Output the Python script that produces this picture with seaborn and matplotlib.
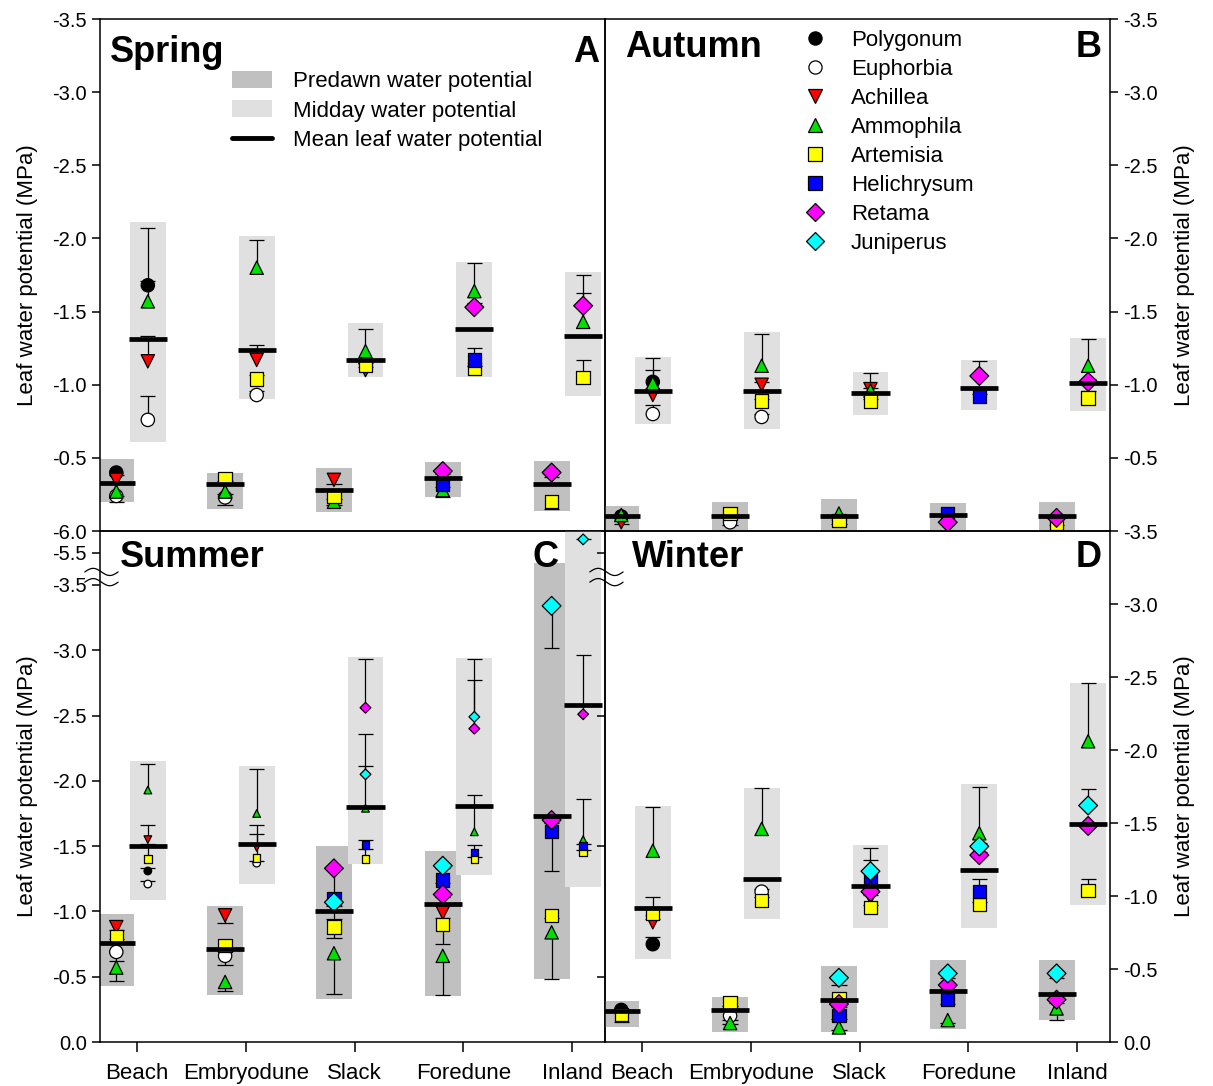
import numpy as np
import pandas as pd
import matplotlib
matplotlib.use("Agg")
import matplotlib.pyplot as plt
from matplotlib.patches import Patch
from matplotlib.lines import Line2D
from matplotlib.ticker import FixedLocator
import seaborn as sns

# ---------------- data ----------------
SITES = ["Beach", "Embryodune", "Slack", "Foredune", "Inland"]
SPECIES = ["Polygonum", "Euphorbia", "Achillea", "Ammophila", "Artemisia",
           "Helichrysum", "Retama", "Juniperus"]
SP_ABBR = ["Pol", "Eup", "Ach", "Amm", "Art", "Hel", "Ret", "Jun"]
SP_COLORS = ["#000000", "#ffffff", "#ff0000", "#00e000", "#ffff00",
             "#0000ff", "#ff00ff", "#00ffff"]
SP_MARKERS = ["o", "o", "v", "^", "s", "s", "D", "D"]

# (site, period, species, mean leaf water potential MPa, SE)
SPRING_POINTS = [
    ("Beach", "PD", "Pol", -0.40, 0.02), ("Beach", "PD", "Ach", -0.35, 0.02),
    ("Beach", "PD", "Amm", -0.27, 0.03), ("Beach", "PD", "Eup", -0.24, 0.04),
    ("Beach", "MD", "Pol", -1.68, 0.39), ("Beach", "MD", "Eup", -0.76, 0.16),
    ("Beach", "MD", "Ach", -1.16, 0.17), ("Beach", "MD", "Amm", -1.57, 0.14),
    ("Embryodune", "PD", "Eup", -0.23, 0.05), ("Embryodune", "PD", "Amm", -0.27, 0.02),
    ("Embryodune", "PD", "Art", -0.36, 0.02),
    ("Embryodune", "MD", "Eup", -0.93, 0.03), ("Embryodune", "MD", "Ach", -1.17, 0.10),
    ("Embryodune", "MD", "Amm", -1.80, 0.19), ("Embryodune", "MD", "Art", -1.04, 0.03),
    ("Slack", "PD", "Ach", -0.35, 0.03), ("Slack", "PD", "Amm", -0.20, 0.02),
    ("Slack", "PD", "Art", -0.24, 0.02),
    ("Slack", "MD", "Ach", -1.10, 0.02), ("Slack", "MD", "Amm", -1.23, 0.15),
    ("Slack", "MD", "Art", -1.13, 0.02),
    ("Foredune", "PD", "Amm", -0.28, 0.05), ("Foredune", "PD", "Hel", -0.32, 0.02),
    ("Foredune", "PD", "Ret", -0.41, 0.02),
    ("Foredune", "MD", "Amm", -1.64, 0.19), ("Foredune", "MD", "Art", -1.11, 0.02),
    ("Foredune", "MD", "Hel", -1.17, 0.08), ("Foredune", "MD", "Ret", -1.53, 0.03),
    ("Inland", "PD", "Art", -0.20, 0.05), ("Inland", "PD", "Ret", -0.40, 0.03),
    ("Inland", "MD", "Amm", -1.43, 0.20), ("Inland", "MD", "Art", -1.05, 0.12),
    ("Inland", "MD", "Ret", -1.54, 0.21),
]
# (site, period, range low, range high, mean of species)
SPRING_BOXES = [
    ("Beach", "PD", -0.20, -0.49, -0.33), ("Beach", "MD", -0.61, -2.11, -1.31),
    ("Embryodune", "PD", -0.15, -0.40, -0.32), ("Embryodune", "MD", -0.90, -2.02, -1.24),
    ("Slack", "PD", -0.13, -0.43, -0.28), ("Slack", "MD", -1.05, -1.42, -1.17),
    ("Foredune", "PD", -0.23, -0.47, -0.36), ("Foredune", "MD", -1.05, -1.84, -1.38),
    ("Inland", "PD", -0.14, -0.48, -0.32), ("Inland", "MD", -0.92, -1.77, -1.33),
]

AUTUMN_POINTS = [
    ("Beach", "PD", "Pol", -0.10, 0.01), ("Beach", "PD", "Ach", -0.06, 0.01),
    ("Beach", "PD", "Amm", -0.11, 0.01),
    ("Beach", "MD", "Pol", -1.02, 0.16), ("Beach", "MD", "Eup", -0.80, 0.06),
    ("Beach", "MD", "Ach", -0.93, 0.02), ("Beach", "MD", "Amm", -1.01, 0.09),
    ("Embryodune", "PD", "Eup", -0.06, 0.02), ("Embryodune", "PD", "Art", -0.12, 0.01),
    ("Embryodune", "MD", "Eup", -0.78, 0.02), ("Embryodune", "MD", "Ach", -1.00, 0.02),
    ("Embryodune", "MD", "Amm", -1.13, 0.22), ("Embryodune", "MD", "Art", -0.89, 0.01),
    ("Slack", "PD", "Amm", -0.12, 0.01), ("Slack", "PD", "Art", -0.07, 0.02),
    ("Slack", "MD", "Ach", -0.97, 0.11), ("Slack", "MD", "Amm", -0.96, 0.02),
    ("Slack", "MD", "Art", -0.89, 0.01),
    ("Foredune", "PD", "Hel", -0.12, 0.01), ("Foredune", "PD", "Ret", -0.06, 0.01),
    ("Foredune", "MD", "Hel", -0.92, 0.02), ("Foredune", "MD", "Ret", -1.06, 0.10),
    ("Inland", "PD", "Art", -0.05, 0.01), ("Inland", "PD", "Ret", -0.09, 0.01),
    ("Inland", "MD", "Amm", -1.13, 0.18), ("Inland", "MD", "Art", -0.91, 0.05),
    ("Inland", "MD", "Ret", -1.02, 0.02),
]
AUTUMN_BOXES = [
    ("Beach", "PD", -0.01, -0.17, -0.10), ("Beach", "MD", -0.73, -1.19, -0.955),
    ("Embryodune", "PD", -0.01, -0.20, -0.10), ("Embryodune", "MD", -0.70, -1.36, -0.96),
    ("Slack", "PD", -0.01, -0.22, -0.10), ("Slack", "MD", -0.79, -1.09, -0.945),
    ("Foredune", "PD", -0.01, -0.19, -0.11), ("Foredune", "MD", -0.83, -1.17, -0.98),
    ("Inland", "PD", -0.01, -0.20, -0.10), ("Inland", "MD", -0.82, -1.32, -1.01),
]

SUMMER_POINTS = [
    ("Beach", "PD", "Eup", -0.69, 0.07), ("Beach", "PD", "Ach", -0.88, 0.02),
    ("Beach", "PD", "Amm", -0.57, 0.10), ("Beach", "PD", "Art", -0.81, 0.02),
    ("Beach", "MD", "Pol", -1.31, 0.02), ("Beach", "MD", "Eup", -1.21, 0.02),
    ("Beach", "MD", "Ach", -1.55, 0.11), ("Beach", "MD", "Amm", -1.93, 0.20),
    ("Beach", "MD", "Art", -1.40, 0.12),
    ("Embryodune", "PD", "Eup", -0.66, 0.07), ("Embryodune", "PD", "Ach", -0.97, 0.06),
    ("Embryodune", "PD", "Amm", -0.46, 0.07), ("Embryodune", "PD", "Art", -0.74, 0.02),
    ("Embryodune", "MD", "Eup", -1.37, 0.02), ("Embryodune", "MD", "Ach", -1.49, 0.17),
    ("Embryodune", "MD", "Amm", -1.75, 0.34), ("Embryodune", "MD", "Art", -1.41, 0.18),
    ("Slack", "PD", "Amm", -0.68, 0.31), ("Slack", "PD", "Art", -0.88, 0.08),
    ("Slack", "PD", "Hel", -1.10, 0.02), ("Slack", "PD", "Ret", -1.33, 0.39),
    ("Slack", "PD", "Jun", -1.07, 0.03),
    ("Slack", "MD", "Amm", -1.79, 0.32), ("Slack", "MD", "Art", -1.40, 0.08),
    ("Slack", "MD", "Hel", -1.51, 0.04), ("Slack", "MD", "Ret", -2.56, 0.37),
    ("Slack", "MD", "Jun", -2.05, 0.31),
    ("Foredune", "PD", "Ach", -0.99, 0.04), ("Foredune", "PD", "Amm", -0.66, 0.30),
    ("Foredune", "PD", "Art", -0.90, 0.15), ("Foredune", "PD", "Hel", -1.24, 0.02),
    ("Foredune", "PD", "Ret", -1.13, 0.02), ("Foredune", "PD", "Jun", -1.35, 0.02),
    ("Foredune", "MD", "Amm", -1.61, 0.28), ("Foredune", "MD", "Art", -1.40, 0.02),
    ("Foredune", "MD", "Hel", -1.45, 0.06), ("Foredune", "MD", "Ret", -2.40, 0.37),
    ("Foredune", "MD", "Jun", -2.49, 0.44),
    ("Inland", "PD", "Amm", -0.84, 0.36), ("Inland", "PD", "Art", -0.97, 0.02),
    ("Inland", "PD", "Hel", -1.61, 0.30), ("Inland", "PD", "Ret", -1.70, 0.02),
    ("Inland", "PD", "Jun", -3.34, 0.32),
    ("Inland", "MD", "Amm", -1.55, 0.31), ("Inland", "MD", "Art", -1.45, 0.02),
    ("Inland", "MD", "Hel", -1.50, 0.02), ("Inland", "MD", "Ret", -2.51, 0.45),
    ("Inland", "MD", "Jun", -5.81, 0.02),
]
SUMMER_BOXES = [
    ("Beach", "PD", -0.43, -0.98, -0.76), ("Beach", "MD", -1.09, -2.15, -1.50),
    ("Embryodune", "PD", -0.36, -1.04, -0.71), ("Embryodune", "MD", -1.21, -2.11, -1.52),
    ("Slack", "PD", -0.33, -1.50, -1.00), ("Slack", "MD", -1.36, -2.95, -1.80),
    ("Foredune", "PD", -0.35, -1.46, -1.06), ("Foredune", "MD", -1.28, -2.94, -1.81),
    ("Inland", "PD", -0.48, -4.90, -1.73), ("Inland", "MD", -1.19, -6.00, -2.58),
]

WINTER_POINTS = [
    ("Beach", "PD", "Pol", -0.22, 0.02), ("Beach", "PD", "Art", -0.19, 0.05),
    ("Beach", "MD", "Pol", -0.67, 0.05), ("Beach", "MD", "Ach", -0.82, 0.02),
    ("Beach", "MD", "Amm", -1.31, 0.30), ("Beach", "MD", "Art", -0.88, 0.11),
    ("Embryodune", "PD", "Eup", -0.18, 0.03), ("Embryodune", "PD", "Amm", -0.13, 0.01),
    ("Embryodune", "PD", "Art", -0.27, 0.02),
    ("Embryodune", "MD", "Eup", -1.03, 0.02), ("Embryodune", "MD", "Amm", -1.46, 0.28),
    ("Embryodune", "MD", "Art", -0.97, 0.02),
    ("Slack", "PD", "Amm", -0.10, 0.02), ("Slack", "PD", "Art", -0.30, 0.02),
    ("Slack", "PD", "Hel", -0.18, 0.02), ("Slack", "PD", "Ret", -0.26, 0.02),
    ("Slack", "PD", "Jun", -0.44, 0.05),
    ("Slack", "MD", "Ach", -0.99, 0.02), ("Slack", "MD", "Art", -0.92, 0.02),
    ("Slack", "MD", "Hel", -1.12, 0.13), ("Slack", "MD", "Ret", -1.03, 0.02),
    ("Slack", "MD", "Jun", -1.17, 0.16),
    ("Foredune", "PD", "Amm", -0.15, 0.02), ("Foredune", "PD", "Hel", -0.29, 0.03),
    ("Foredune", "PD", "Ret", -0.39, 0.03), ("Foredune", "PD", "Jun", -0.47, 0.03),
    ("Foredune", "MD", "Amm", -1.43, 0.32), ("Foredune", "MD", "Art", -0.94, 0.02),
    ("Foredune", "MD", "Hel", -1.03, 0.09), ("Foredune", "MD", "Ret", -1.28, 0.02),
    ("Foredune", "MD", "Jun", -1.34, 0.02),
    ("Inland", "PD", "Amm", -0.23, 0.08), ("Inland", "PD", "Ret", -0.29, 0.02),
    ("Inland", "PD", "Jun", -0.47, 0.03),
    ("Inland", "MD", "Amm", -2.06, 0.40), ("Inland", "MD", "Art", -1.04, 0.08),
    ("Inland", "MD", "Ret", -1.48, 0.02), ("Inland", "MD", "Jun", -1.62, 0.11),
]
WINTER_BOXES = [
    ("Beach", "PD", -0.10, -0.28, -0.21), ("Beach", "MD", -0.57, -1.62, -0.92),
    ("Embryodune", "PD", -0.07, -0.31, -0.22), ("Embryodune", "MD", -0.84, -1.74, -1.12),
    ("Slack", "PD", -0.07, -0.52, -0.29), ("Slack", "MD", -0.78, -1.35, -1.07),
    ("Foredune", "PD", -0.09, -0.56, -0.35), ("Foredune", "MD", -0.78, -1.77, -1.18),
    ("Inland", "PD", -0.15, -0.56, -0.33), ("Inland", "MD", -0.94, -2.46, -1.49),
]

LEGEND_BOX_LABELS = ["Predawn water potential", "Midday water potential",
                     "Mean leaf water potential"]

# ---------------- style ----------------
sns.set_style("ticks")
plt.rcParams["font.family"] = ["Liberation Sans", "DejaVu Sans"]
plt.rcParams["axes.unicode_minus"] = False
plt.rcParams["axes.linewidth"] = 1.1
for key in ("text.color", "axes.labelcolor", "xtick.color", "ytick.color",
            "axes.edgecolor"):
    plt.rcParams[key] = "black"

SITE_IDX = {s: i for i, s in enumerate(SITES)}
OFFSET = {"PD": -0.19, "MD": 0.10}
BOX_COLORS = {"PD": "#c0c0c0", "MD": "#e0e0e0"}
PALETTE = dict(zip(SPECIES, SP_COLORS))
MARKERS = dict(zip(SPECIES, SP_MARKERS))
ABBR2SP = dict(zip(SP_ABBR, SPECIES))
SP_ORDER = {s: i for i, s in enumerate(SPECIES)}
BOX_W = 0.33
MEAN_W = 0.35
CAP = 0.07
XLIM = (-0.34, 4.30)

# broken summer axis as a function scale
K1, K2 = 0.1225, 0.336


def _g(m):
    m = np.asarray(m, dtype=float)
    return np.where(m <= 3.5, m,
                    np.where(m <= 5.5, 3.5 + (m - 3.5) * K1,
                             3.5 + 2 * K1 + (m - 5.5) * K2))


def _ginv(t):
    t = np.asarray(t, dtype=float)
    return np.where(t <= 3.5, t,
                    np.where(t <= 3.5 + 2 * K1, 3.5 + (t - 3.5) / K1,
                             5.5 + (t - 3.5 - 2 * K1) / K2))


def fwd(v):
    return -_g(-np.asarray(v, dtype=float))


def inv(u):
    return -_ginv(-np.asarray(u, dtype=float))


def draw_panel(ax, points, boxes, small_md=False):
    bdf = pd.DataFrame(boxes, columns=["site", "period", "lo", "hi", "mean"])
    bdf["x"] = bdf["site"].map(SITE_IDX) + bdf["period"].map(OFFSET)
    ax.bar(bdf["x"], bdf["hi"] - bdf["lo"], bottom=bdf["lo"], width=BOX_W,
           color=bdf["period"].map(BOX_COLORS).tolist(), linewidth=0, zorder=1)

    pdf = pd.DataFrame(points, columns=["site", "period", "abbr", "value", "se"])
    pdf["species"] = pdf["abbr"].map(ABBR2SP)
    pdf["sp_i"] = pdf["species"].map(SP_ORDER)
    pdf["x"] = pdf["site"].map(SITE_IDX) + pdf["period"].map(OFFSET)
    sign = np.where(pdf["period"] == "PD", 1.0, -1.0)
    pdf["end"] = pdf["value"] + sign * pdf["se"]
    ax.vlines(pdf["x"], pdf["value"], pdf["end"], color="black", lw=0.9, zorder=2)
    ax.hlines(pdf["end"], pdf["x"] - CAP, pdf["x"] + CAP, color="black", lw=0.9, zorder=2)

    for period in ["PD", "MD"]:
        sub = pdf[pdf["period"] == period].sort_values(["x", "sp_i"], kind="stable")
        size = 30 if (small_md and period == "MD") else 92
        sns.scatterplot(data=sub, x="x", y="value", hue="species", style="species",
                        palette=PALETTE, markers=MARKERS, s=size, edgecolor="black",
                        linewidth=0.9, legend=False, ax=ax, zorder=3)

    ax.hlines(bdf["mean"], bdf["x"] - MEAN_W / 2, bdf["x"] + MEAN_W / 2,
              color="black", lw=3.4, zorder=4)
    ax.set_xlim(*XLIM)
    ax.set_xlabel("")
    ax.set_ylabel("")


fig = plt.figure(figsize=(12.13, 10.86), dpi=100)
axA = fig.add_axes([0.0824, 0.5110, 0.4163, 0.4715])
axB = fig.add_axes([0.4987, 0.5110, 0.4163, 0.4715])
axC = fig.add_axes([0.0824, 0.0405, 0.4163, 0.4705])
axD = fig.add_axes([0.4987, 0.0405, 0.4163, 0.4705])
for ax in (axA, axB, axC, axD):
    ax.set_facecolor("none")
    ax.set_axisbelow(False)

axC.set_yscale("function", functions=(fwd, inv))

draw_panel(axA, SPRING_POINTS, SPRING_BOXES)
draw_panel(axB, AUTUMN_POINTS, AUTUMN_BOXES)
draw_panel(axC, SUMMER_POINTS, SUMMER_BOXES, small_md=True)
draw_panel(axD, WINTER_POINTS, WINTER_BOXES)

ylab = "Leaf water potential (MPa)"
tick_kw = dict(direction="out", length=6, width=1.1, labelsize=14.5, colors="black")

top_ticks = [-3.5, -3.0, -2.5, -2.0, -1.5, -1.0, -0.5]
for ax in (axA, axB):
    ax.set_ylim(0, -3.5)
    ax.set_yticks(top_ticks)
    ax.set_yticklabels([f"{t:.1f}" for t in top_ticks])
    ax.set_xticks([])
    ax.tick_params(axis="x", bottom=False, labelbottom=False)

low_ticks = [0.0, -0.5, -1.0, -1.5, -2.0, -2.5, -3.0, -3.5]
axD.set_ylim(0, -3.5)
axD.set_yticks(low_ticks)
axD.set_yticklabels([f"{t:.1f}" for t in low_ticks])

sum_ticks = low_ticks + [-5.5, -6.0]
axC.set_ylim(0, -6.0)
axC.set_yticks(sum_ticks)
axC.set_yticklabels([f"{t:.1f}" for t in sum_ticks])
axC.yaxis.set_minor_locator(FixedLocator([-0.5, -1.5, -2.5, -5.5]))
axC.yaxis.remove_overlapping_locs = False
axC.tick_params(axis="y", which="minor", left=False, right=True,
                direction="in", length=6, width=1.1, colors="black")

for ax in (axC, axD):
    ax.set_xticks(range(len(SITES)))
    ax.set_xticklabels(SITES)
    ax.tick_params(axis="x", direction="out", length=7, width=1.1,
                   labelsize=16, pad=8, colors="black")

for ax in (axA, axC):
    ax.tick_params(axis="y", which="major", left=True, right=False, **tick_kw)
    ax.set_ylabel(ylab, fontsize=16, labelpad=10)
for ax in (axB, axD):
    ax.yaxis.tick_right()
    ax.yaxis.set_label_position("right")
    ax.tick_params(axis="y", which="major", left=False, right=True, **tick_kw)
    ax.set_ylabel(ylab, fontsize=16, labelpad=12)

for ax in (axA, axB, axC, axD):
    for sp in ax.spines.values():
        sp.set_visible(True)
        sp.set_color("black")
        sp.set_linewidth(1.1)
        sp.set_zorder(5)

# panel titles
title_kw = dict(fontsize=26, fontweight="bold", va="baseline", color="black")
axA.text(0.02, 0.916, "Spring", transform=axA.transAxes, ha="left", **title_kw)
axA.text(0.988, 0.916, "A", transform=axA.transAxes, ha="right", **title_kw)
axB.text(0.04, 0.926, "Autumn", transform=axB.transAxes, ha="left", **title_kw)
axB.text(0.984, 0.926, "B", transform=axB.transAxes, ha="right", **title_kw)
axC.text(0.04, 0.93, "Summer", transform=axC.transAxes, ha="left", **title_kw)
axC.text(0.909, 0.93, "C", transform=axC.transAxes, ha="right", **title_kw)
axD.text(0.053, 0.93, "Winter", transform=axD.transAxes, ha="left", **title_kw)
axD.text(0.984, 0.93, "D", transform=axD.transAxes, ha="right", **title_kw)

# legends
h1 = [Patch(facecolor=BOX_COLORS["PD"], edgecolor="none"),
      Patch(facecolor=BOX_COLORS["MD"], edgecolor="none"),
      Line2D([], [], color="black", lw=3.5)]
leg1 = axA.legend(h1, LEGEND_BOX_LABELS, loc="upper left", bbox_to_anchor=(0.262, 0.898),
                  frameon=False, fontsize=16, handlelength=1.8, handleheight=0.8,
                  handletextpad=0.95, labelspacing=0.36, borderpad=0, borderaxespad=0)
h2 = [Line2D([], [], linestyle="none", marker=m, markersize=9.5, markerfacecolor=c,
             markeredgecolor="black", markeredgewidth=0.9)
      for m, c in zip(SP_MARKERS, SP_COLORS)]
leg2 = axB.legend(h2, SPECIES, loc="upper left", bbox_to_anchor=(0.39, 0.978),
                  frameon=False, fontsize=16, handlelength=1.2, handletextpad=1.0,
                  labelspacing=0.36, borderpad=0, borderaxespad=0)
for lg in (leg1, leg2):
    for txt in lg.get_texts():
        txt.set_color("black")

# axis break marks on the summer panel
t = np.linspace(0, 1, 60)
for y0 in (0.920, 0.900):
    for x0 in (-0.03, 0.97):
        axC.plot(x0 + 0.066 * t, y0 + 0.007 * np.sin(2 * np.pi * t),
                 transform=axC.transAxes, color="black", lw=0.9, clip_on=False,
                 zorder=6)

fig.savefig("out.png", dpi=100)
